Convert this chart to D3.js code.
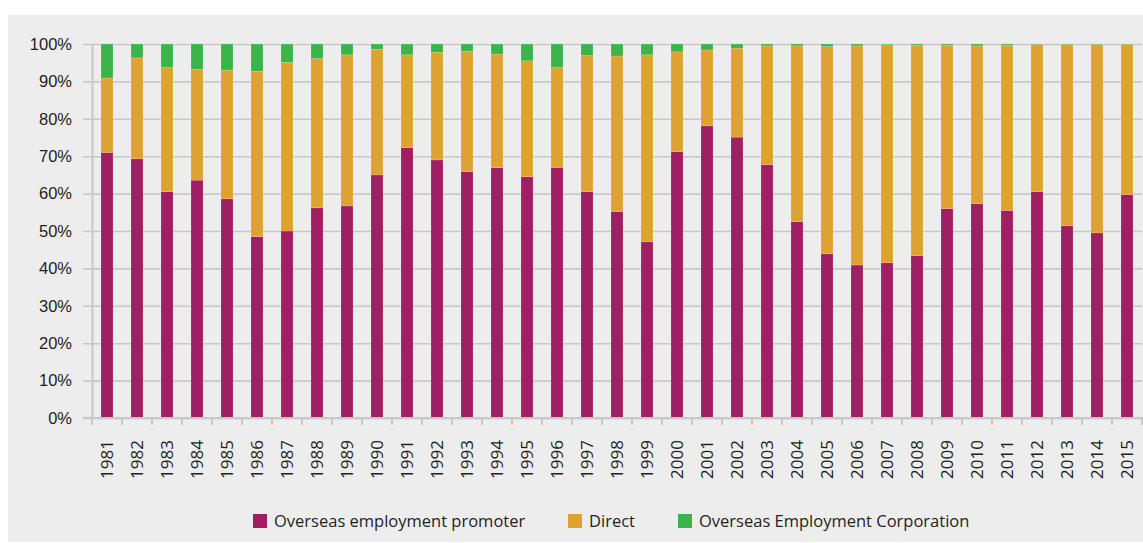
<!DOCTYPE html>
<html>
<head>
<meta charset="utf-8">
<script src="https://cdn.jsdelivr.net/npm/d3@7"></script>
<style>
  body { margin: 0; background: #fff; }
  svg { display: block; font-family: "Open Sans", "Noto Sans", sans-serif; }
</style>
</head>
<body>
<div id="chart"></div>
<script>
// years on the x axis
var years = [1981, 1982, 1983, 1984, 1985, 1986, 1987, 1988, 1989, 1990,
  1991, 1992, 1993, 1994, 1995, 1996, 1997, 1998, 1999, 2000,
  2001, 2002, 2003, 2004, 2005, 2006, 2007, 2008, 2009, 2010,
  2011, 2012, 2013, 2014, 2015];

// shares in %
var promoter = [71.0, 69.3, 60.5, 63.6, 58.6, 48.5, 50.0, 56.2, 56.7, 65.0,
  72.3, 69.0, 65.9, 66.9, 64.5, 67.0, 60.5, 55.2, 47.1, 71.2,
  78.1, 75.1, 67.7, 52.5, 43.9, 40.9, 41.5, 43.4, 56.0, 57.3,
  55.5, 60.5, 51.4, 49.5, 59.7];
var direct = [19.9, 27.0, 33.2, 29.6, 34.4, 44.2, 45.1, 39.9, 40.4, 33.6,
  24.8, 28.8, 32.2, 30.4, 31.0, 26.7, 36.4, 41.6, 50.0, 26.7,
  20.3, 23.8, 31.8, 47.0, 55.4, 58.6, 58.3, 56.3, 43.7, 42.2,
  44.2, 39.4, 48.5, 50.4, 40.2];
var oec = [9.1, 3.7, 6.3, 6.8, 7.0, 7.3, 4.9, 3.9, 2.9, 1.4,
  2.9, 2.2, 1.9, 2.7, 4.5, 6.3, 3.1, 3.2, 2.9, 2.1,
  1.6, 1.1, 0.5, 0.5, 0.7, 0.5, 0.2, 0.3, 0.3, 0.5,
  0.3, 0.1, 0.1, 0.1, 0.1];

var seriesNames = ["Overseas employment promoter", "Direct", "Overseas Employment Corporation"];
var seriesColors = ["#9e1f62", "#dea231", "#3bb54a"];
var yTicks = [0, 10, 20, 30, 40, 50, 60, 70, 80, 90, 100];

var width = 1143, height = 543;
var margin = { left: 92, right: 1, top: 44, bottom: 125 };

var rows = years.map(function(y, i) {
  return { year: y, p: promoter[i], d: direct[i], o: oec[i] };
});

var stack = d3.stack().keys(["p", "d", "o"]);
var layers = stack(rows);

var svg = d3.select("#chart")
  .append("svg")
  .attr("width", width)
  .attr("height", height);

// grey panel
svg.append("rect")
  .attr("x", 8)
  .attr("y", 15)
  .attr("width", width - 8)
  .attr("height", 527)
  .attr("fill", "#ededed");

var x = d3.scaleBand()
  .domain(years)
  .range([margin.left, width - margin.right])
  .paddingInner(0.6)
  .paddingOuter(0.3);

var y = d3.scaleLinear()
  .domain([0, 100])
  .range([height - margin.bottom, margin.top]);

// y axis with gridlines
var yAxis = svg.append("g")
  .attr("transform", "translate(" + margin.left + ",0)")
  .call(d3.axisLeft(y)
    .tickValues(yTicks)
    .tickSize(-(width - margin.left - margin.right))
    .tickSizeOuter(0)
    .tickPadding(20)
    .tickFormat(function(d) { return d + "%"; }));
yAxis.select(".domain").attr("stroke", "#c8c8c8").attr("stroke-width", 2);
yAxis.selectAll(".tick line")
  .attr("stroke", "#c8c8c8")
  .attr("stroke-width", 1.6)
  .attr("x1", -9);
yAxis.selectAll(".tick text")
  .attr("fill", "#231f20")
  .attr("font-size", 16.5);

// bars
var g = svg.append("g");
layers.forEach(function(layer, k) {
  g.append("g")
    .selectAll("rect")
    .data(layer)
    .enter()
    .append("rect")
    .attr("x", function(d) { return x(d.data.year); })
    .attr("width", x.bandwidth())
    .attr("y", function(d) { return y(d[1]); })
    .attr("height", function(d) { return y(d[0]) - y(d[1]); })
    .attr("fill", seriesColors[k])
    .attr("stroke", "rgba(255,255,255,0.25)")
    .attr("stroke-width", 0.6);
});

// x axis
var step = x.step();
var xAxis = svg.append("g")
  .attr("transform", "translate(0," + y(0) + ")");
xAxis.append("line")
  .attr("x1", margin.left - 9)
  .attr("x2", width)
  .attr("stroke", "#c8c8c8")
  .attr("stroke-width", 2);
xAxis.selectAll("line.tk")
  .data(d3.range(years.length + 1))
  .enter()
  .append("line")
  .attr("class", "tk")
  .attr("x1", function(i) { return margin.left + i * step; })
  .attr("x2", function(i) { return margin.left + i * step; })
  .attr("y1", 0)
  .attr("y2", 7)
  .attr("stroke", "#c8c8c8")
  .attr("stroke-width", 2);
xAxis.selectAll("text")
  .data(years)
  .enter()
  .append("text")
  .attr("transform", function(d) {
    return "translate(" + (x(d) + x.bandwidth() / 2 + 6) + ",22) rotate(-90)";
  })
  .attr("text-anchor", "end")
  .attr("font-size", 17)
  .attr("fill", "#231f20")
  .text(function(d) { return d; });

// legend
var legendX = [253, 568, 678];
var legend = svg.append("g");
seriesNames.forEach(function(name, k) {
  legend.append("rect")
    .attr("x", legendX[k])
    .attr("y", 514)
    .attr("width", 14)
    .attr("height", 14)
    .attr("fill", seriesColors[k]);
  legend.append("text")
    .attr("x", legendX[k] + 21)
    .attr("y", 527)
    .attr("font-size", 16.5)
    .attr("fill", "#231f20")
    .text(name);
});
</script>
</body>
</html>
